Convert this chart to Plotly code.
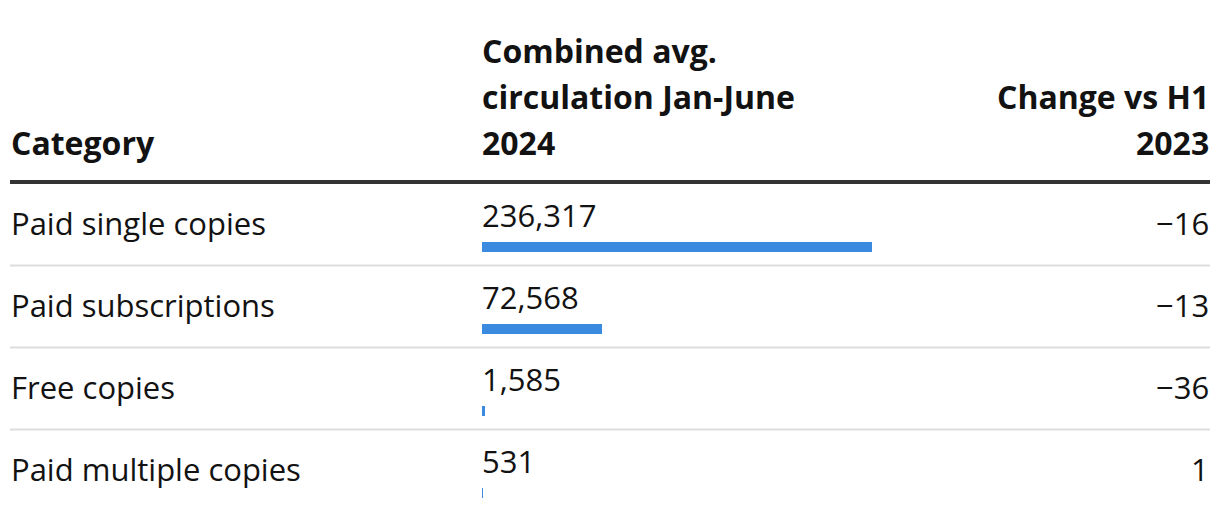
import plotly.graph_objects as go

categories = ["Paid single copies", "Paid subscriptions", "Free copies", "Paid multiple copies"]
circulation = [236317, 72568, 1585, 531]
change_vs_h1_2023 = [-16, -13, -36, 1]

header_category = "Category"
header_circ = ["Combined avg.", "circulation Jan-June", "2024"]
header_change = ["Change vs H1", "2023"]

# page body has an 8px margin: work in window pixels, convert to figure pixels
OFF = 8
W, H = 1220 - OFF, 520 - OFF
FONT = "'Open Sans', 'Noto Sans', sans-serif"
TXT = "#121212"
BAR = "#3a8ae0"
ROW_PX = 82.0
ROW0_PX = 224.5 - OFF

def px_x(p):
    return (p - OFF) / W

def px_y(p):
    return 1 - (p - OFF) / H

def fmt_change(v):
    return ("\u2212" + str(abs(v))) if v < 0 else str(v)

fig = go.Figure()
fig.add_trace(go.Bar(
    y=categories, x=circulation, orientation="h",
    marker=dict(color=BAR, line=dict(width=0)),
    width=10 / ROW_PX, offset=17.5 / ROW_PX,
    hoverinfo="skip", showlegend=False,
))

reg = dict(size=31, color=TXT, family=FONT)
ann = []
for cat, val, ch in zip(categories, circulation, change_vs_h1_2023):
    ann.append(dict(x=px_x(9), xref="paper", y=cat, yref="y", yshift=2, text=cat,
                    xanchor="left", yanchor="middle", showarrow=False, font=reg))
    ann.append(dict(x=0, xref="x", y=cat, yref="y", xshift=-2, yshift=10, text=f"{val:,}",
                    xanchor="left", yanchor="middle", showarrow=False, font=reg))
    ann.append(dict(x=px_x(1211), xref="paper", y=cat, yref="y", yshift=2, text=fmt_change(ch),
                    xanchor="right", yanchor="middle", showarrow=False, font=reg))

bold = dict(size=32, color=TXT, family=FONT, weight="bold")
ann.append(dict(x=px_x(9), xref="paper", y=px_y(142), yref="paper", text=header_category,
                xanchor="left", yanchor="middle", showarrow=False, font=bold))
for t, yp in zip(header_circ, [50, 96, 142]):
    ann.append(dict(x=0, xref="x", y=px_y(yp), yref="paper", text=t, xshift=-2,
                    xanchor="left", yanchor="middle", showarrow=False, font=bold))
for t, yp in zip(header_change, [96, 142]):
    ann.append(dict(x=px_x(1211), xref="paper", y=px_y(yp), yref="paper", text=t,
                    xanchor="right", yanchor="middle", showarrow=False, font=bold))

shapes = [dict(type="line", xref="paper", yref="paper", x0=px_x(10), x1=px_x(1210),
               y0=px_y(182), y1=px_y(182), line=dict(color="#333333", width=4))]
for i in range(len(categories) - 1):
    shapes.append(dict(type="line", xref="paper", yref="y", x0=px_x(10), x1=px_x(1210),
                       y0=i + 0.5, y1=i + 0.5, line=dict(color="#dddddd", width=2)))

fig.update_layout(
    width=W, height=H, margin=dict(l=0, r=0, t=0, b=0),
    paper_bgcolor="white", plot_bgcolor="white",
    xaxis=dict(domain=[px_x(482), px_x(872)], range=[0, max(circulation)], visible=False, fixedrange=True),
    yaxis=dict(type="category", categoryorder="array", categoryarray=categories,
               range=[len(categories) - 1 + (H - ROW0_PX - 3 * ROW_PX) / ROW_PX, -ROW0_PX / ROW_PX],
               visible=False, fixedrange=True),
    annotations=ann, shapes=shapes, bargap=0,
)
fig.write_html("out.html", config=dict(displayModeBar=False))
